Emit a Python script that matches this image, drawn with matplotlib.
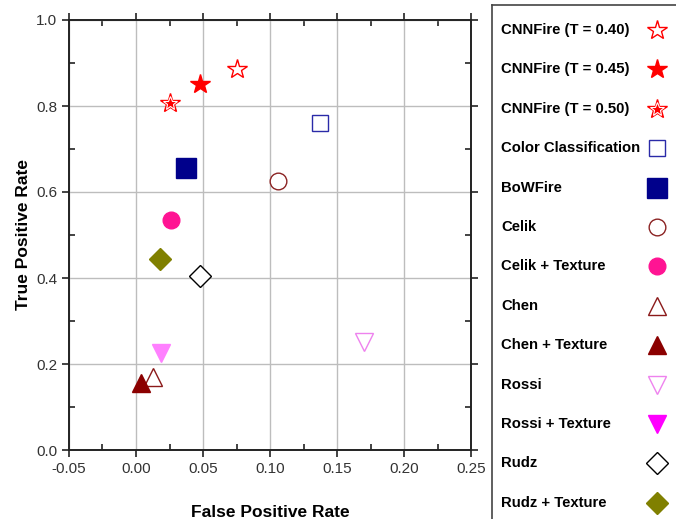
import matplotlib
matplotlib.use("Agg")
import matplotlib.pyplot as plt
from matplotlib.ticker import MultipleLocator, FormatStrFormatter

plt.rcParams['font.family'] = ['Liberation Sans', 'DejaVu Sans']

# data
methods = ['CNNFire (T = 0.40)', 'CNNFire (T = 0.45)', 'CNNFire (T = 0.50)',
           'Color Classification', 'BoWFire', 'Celik', 'Celik + Texture',
           'Chen', 'Chen + Texture', 'Rossi', 'Rossi + Texture', 'Rudz',
           'Rudz + Texture']
fpr = [0.075, 0.048, 0.025, 0.137, 0.037, 0.106, 0.026,
       0.013, 0.004, 0.170, 0.019, 0.048, 0.018]
tpr = [0.886, 0.851, 0.807, 0.760, 0.656, 0.626, 0.535,
       0.170, 0.156, 0.251, 0.226, 0.405, 0.444]

# style per method: marker, face, edge, size
styles = [
    ('*', 'white', 'red', 15),
    ('*', 'red', 'red', 15),
    ('*', 'red', 'red', 15),
    ('s', 'white', '#2a2aa8', 12),
    ('s', '#00008b', '#00008b', 14),
    ('o', 'white', '#8b2323', 12),
    ('o', '#ff1493', '#ff1493', 12),
    ('^', 'white', '#8b1a1a', 13),
    ('^', '#8b0000', '#8b0000', 13),
    ('v', 'white', '#ee82ee', 13),
    ('v', '#ff80ff', '#ff80ff', 13),
    ('D', 'white', 'black', 11),
    ('D', '#808000', '#808000', 11),
]
legend_face = ['white', 'red', 'red', 'white', '#00008b', 'white', '#ff1493',
               'white', '#8b0000', 'white', '#ff00ff', 'white', '#808000']

W, H = 676, 519
fig = plt.figure(figsize=(W / 100, H / 100), dpi=100)
ax = fig.add_axes([69 / W, 1 - 450 / H, (471 - 69) / W, (450 - 20) / H])

for i in range(len(methods)):
    m, fc, ec, s = styles[i]
    ax.plot(fpr[i], tpr[i], marker=m, markersize=s, markerfacecolor=fc,
            markeredgecolor=ec, markeredgewidth=1.0, linestyle='none', zorder=3)
    if i == 2:
        # hollow star drawn inside the filled one
        ax.plot(fpr[i], tpr[i], marker='*', markersize=s * 0.7, markerfacecolor='none',
                markeredgecolor='white', markeredgewidth=0.8, linestyle='none', zorder=4)

ax.set_xlim(-0.05, 0.25)
ax.set_ylim(0.0, 1.0)
ax.xaxis.set_major_locator(MultipleLocator(0.05))
ax.xaxis.set_minor_locator(MultipleLocator(0.025))
ax.yaxis.set_major_locator(MultipleLocator(0.2))
ax.yaxis.set_minor_locator(MultipleLocator(0.1))
ax.xaxis.set_major_formatter(FormatStrFormatter('%.2f'))
ax.yaxis.set_major_formatter(FormatStrFormatter('%.1f'))
ax.grid(True, which='major', color='#bdbdbd', linewidth=1.0, zorder=0)
ax.set_axisbelow(True)
ax.tick_params(which='major', direction='out', length=5, width=1.2, labelsize=11,
               top=True, right=True, colors='#222222')
ax.tick_params(which='minor', direction='in', length=4, width=1.2,
               top=True, right=True, color='#222222')
ax.tick_params(axis='both', labelcolor='#333333')
for sp in ax.spines.values():
    sp.set_linewidth(1.4)
    sp.set_color('#222222')
ax.set_xlabel('False Positive Rate', fontsize=12.5, fontweight='bold', labelpad=21)
ax.set_ylabel('True Positive Rate', fontsize=12.5, fontweight='bold', labelpad=4)

# legend drawn in its own box on the right
lg = fig.add_axes([492 / W, -0.02, 0.4, 1.02 - 5 / H])
lg.set_xlim(492, 492 + 0.4 * W)
lg.set_ylim(H + 0.02 * H, 5)
lg.set_xticks([])
lg.set_yticks([])
for sp in lg.spines.values():
    sp.set_linewidth(1.2)
    sp.set_color('#444444')
for i, name in enumerate(methods):
    y = 30 + i * 39.4
    m, fc, ec, s = styles[i]
    lg.text(501, y, name, fontsize=10.7, fontweight='bold', va='center', ha='left')
    lg.plot(657, y, marker=m, markersize=s * 1.0, markerfacecolor=legend_face[i],
            markeredgecolor=ec if i != 10 else '#ff00ff', markeredgewidth=1.0,
            linestyle='none')
    if i == 2:
        lg.plot(657, y, marker='*', markersize=s * 0.7, markerfacecolor='none',
                markeredgecolor='white', markeredgewidth=0.8, linestyle='none')

fig.savefig('out.png', dpi=100)
